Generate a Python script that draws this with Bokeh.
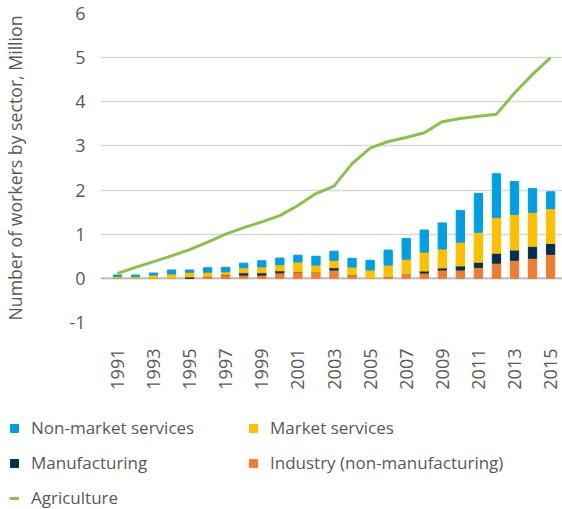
import math
from bokeh.plotting import figure
from bokeh.layouts import column
from bokeh.models import (Legend, LegendItem, FixedTicker, Span,
                          ColumnDataSource, Range1d)
from bokeh.embed import file_html
from bokeh.resources import INLINE

years = list(range(1991, 2016))
industry = [0, 0, 0, 0, 0, 0.04, 0.08, 0.075, 0.075, 0.125, 0.15, 0.14, 0.19,
            0.075, 0, 0.04, 0.095, 0.12, 0.19, 0.19, 0.25, 0.345, 0.41, 0.455, 0.545]
manufacturing = [0, 0, 0, 0, 0.03, 0, 0, 0.05, 0.05, 0.045, 0, 0, 0.05,
                 0, 0, 0, 0, 0.045, 0.045, 0.09, 0.115, 0.225, 0.23, 0.27, 0.245]
market = [0.04, 0.04, 0.075, 0.1, 0.11, 0.10, 0.07, 0.115, 0.135, 0.14, 0.22, 0.16, 0.17,
          0.18, 0.19, 0.26, 0.34, 0.43, 0.43, 0.54, 0.68, 0.81, 0.81, 0.77, 0.79]
nonmarket = [0.035, 0.035, 0.045, 0.09, 0.05, 0.10, 0.10, 0.105, 0.14, 0.15, 0.155, 0.20, 0.205,
             0.2, 0.22, 0.34, 0.47, 0.50, 0.59, 0.72, 0.88, 0.99, 0.745, 0.54, 0.38]
agriculture = [0.11, 0.25, 0.38, 0.51, 0.65, 0.82, 1.0, 1.15, 1.28, 1.42, 1.65, 1.92, 2.09,
               2.6, 2.95, 3.1, 3.19, 3.3, 3.55, 3.62, 3.67, 3.72, 4.2, 4.62, 5.0]
tick_years = list(range(1991, 2016, 2))
y_ticks = [-1, 0, 1, 2, 3, 4, 5, 6]

C_IND = "#ED7D31"
C_MAN = "#003152"
C_MKT = "#FDC000"
C_NMS = "#009FE3"
C_AGR = "#8CC04C"
TXT = "#595959"
FONT = "Open Sans"

stack_cols = ["industry", "manufacturing", "market", "nonmarket"]
stack_colors = [C_IND, C_MAN, C_MKT, C_NMS]

x = list(range(len(years)))
src = ColumnDataSource(dict(x=x, industry=industry, manufacturing=manufacturing,
                            market=market, nonmarket=nonmarket, agriculture=agriculture))

p = figure(width=562, height=410, output_backend="svg", toolbar_location=None,
           x_range=Range1d(-0.938, 24.66), y_range=Range1d(-1, 6),
           min_border_left=98, min_border_right=0, min_border_top=13,
           min_border_bottom=88)
p.outline_line_color = None
p.background_fill_color = "white"
p.frame_align = False

p.add_layout(Span(location=0, dimension="width", line_color="#BFBFBF",
                  line_width=2, level="underlay"))

rs = p.vbar_stack(stack_cols, x="x", width=0.46, color=stack_colors, source=src)
ln = p.line("x", "agriculture", source=src, line_color=C_AGR, line_width=3)

# axes
xa = p.xaxis[0]
xa.ticker = FixedTicker(ticks=[years.index(y) for y in tick_years])
xa.major_label_overrides = {years.index(y): str(y) for y in tick_years}
xa.major_label_orientation = math.pi / 2
xa.axis_line_color = None
xa.major_tick_line_color = None
xa.minor_tick_line_color = None
xa.major_label_standoff = 20
xa.major_label_text_font = FONT
xa.major_label_text_font_size = "18px"
xa.major_label_text_color = TXT

ya = p.yaxis[0]
ya.ticker = FixedTicker(ticks=y_ticks)
ya.major_label_overrides = {v: str(v) for v in y_ticks}
ya.axis_line_color = None
ya.major_tick_line_color = None
ya.minor_tick_line_color = None
ya.major_label_standoff = 9
ya.major_label_text_font = FONT
ya.major_label_text_font_size = "18px"
ya.major_label_text_color = TXT
ya.axis_label = "Number of workers by sector, Million"
ya.axis_label_text_font = FONT
ya.axis_label_text_font_size = "17.7px"
ya.axis_label_text_font_style = "normal"
ya.axis_label_text_color = TXT
ya.axis_label_standoff = 39

p.xgrid.visible = False
p.ygrid.grid_line_color = "#D9D9D9"
p.ygrid.grid_line_width = 1.5
p.ygrid.ticker = FixedTicker(ticks=y_ticks)

# legend host: same series, ranges chosen so that nothing is drawn in its frame
lp = figure(width=562, height=99, output_backend="svg", toolbar_location=None,
            x_axis_type=None, y_axis_type=None, min_border=0,
            x_range=Range1d(-20, -10), y_range=Range1d(-20, -10))
lp.outline_line_color = None
lp.grid.visible = False
lp.frame_align = False
lrs = lp.vbar_stack(stack_cols, x="x", width=0.46, color=stack_colors, source=src)
lln = lp.line("x", "agriculture", source=src, line_color=C_AGR, line_width=3)


def make_legend(items, loc):
    return Legend(items=items, location=loc, orientation="vertical",
                  glyph_width=10, glyph_height=10, label_standoff=12,
                  spacing=12, padding=0, margin=0, label_height=20,
                  border_line_color=None, background_fill_alpha=0,
                  label_text_font=FONT, label_text_font_size="17px",
                  label_text_color=TXT)


leg1 = make_legend([LegendItem(label="Non-market services", renderers=[lrs[3]]),
                    LegendItem(label="Manufacturing", renderers=[lrs[1]]),
                    LegendItem(label="Agriculture", renderers=[lln])], (9, 0))
leg2 = make_legend([LegendItem(label="Market services", renderers=[lrs[2]]),
                    LegendItem(label="Industry (non-manufacturing)", renderers=[lrs[0]])],
                   (248, 35))
lp.add_layout(leg1)
lp.add_layout(leg2)

layout = column(p, lp, spacing=0)
open("out.html", "w").write(file_html(layout, INLINE))
